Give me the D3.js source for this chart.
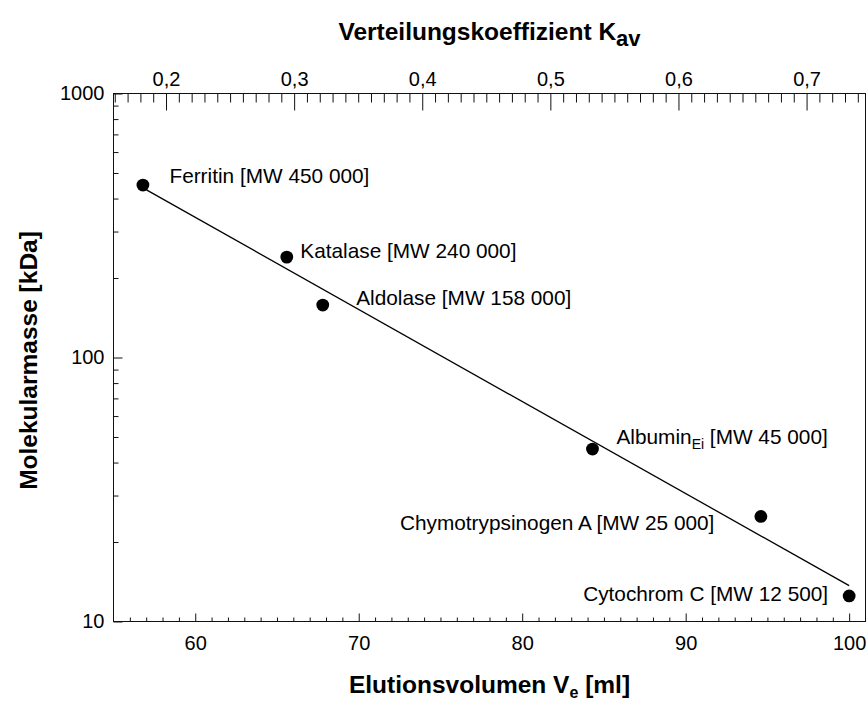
<!DOCTYPE html>
<html>
<head>
<meta charset="utf-8">
<script src="https://cdn.jsdelivr.net/npm/d3@7"></script>
<style>
  html, body { margin: 0; padding: 0; background: #fff; }
  svg { display: block; font-family: "Liberation Sans", Arial, sans-serif; }
</style>
</head>
<body>
<svg id="chart" width="868" height="705"></svg>
<script>
// Calibration proteins for gel filtration
const proteins = ["Ferritin", "Katalase", "Aldolase", "Albumin", "Chymotrypsinogen A", "Cytochrom C"];
const labelTexts = ["Ferritin [MW 450 000]", "Katalase [MW 240 000]", "Aldolase [MW 158 000]",
                    "Albumin|Ei| [MW 45 000]", "Chymotrypsinogen A [MW 25 000]", "Cytochrom C [MW 12 500]"];
const elutionVolume = [56.8, 65.6, 67.8, 84.3, 94.6, 100.0];   // ml
const molMass = [450, 240, 158, 45, 25, 12.5];                  // kDa

// Axis ranges and ticks
const veDomain = [55, 101];
const veTicks = [60, 70, 80, 90, 100];
const kavDomain = [0.159, 0.746];
const kavTicks = [0.2, 0.3, 0.4, 0.5, 0.6, 0.7];
const massDomain = [10, 1000];
const massTicks = [10, 100, 1000];

const svg = d3.select("#chart");
const plot = { left: 113.5, right: 865.5, top: 93.5, bottom: 621.5 };

const x = d3.scaleLinear().domain(veDomain).range([plot.left, plot.right]);
const xTop = d3.scaleLinear().domain(kavDomain).range([plot.left, plot.right]);
const y = d3.scaleLog().domain(massDomain).range([plot.bottom, plot.top]);

const ink = "#111";
const tickFont = 20;

// Frame
svg.append("rect")
  .attr("x", plot.left).attr("y", plot.top)
  .attr("width", plot.right - plot.left).attr("height", plot.bottom - plot.top)
  .attr("fill", "none").attr("stroke", ink).attr("stroke-width", 1);

function styleAxis(g) {
  g.select(".domain").remove();
  g.selectAll("line").attr("stroke", ink).attr("stroke-width", 1);
  g.selectAll("text").attr("fill", "#000").style("font-size", tickFont + "px")
    .style("font-family", "'Liberation Sans', Arial, sans-serif");
}

// Bottom axis: elution volume (ticks point inward)
const veMinor = d3.range(56, 101, 1).filter(v => v % 10 !== 0);
svg.append("g").attr("transform", `translate(0,${plot.bottom})`)
  .call(d3.axisBottom(x).tickValues(veMinor).tickSize(-4).tickFormat(""))
  .call(styleAxis);
svg.append("g").attr("transform", `translate(0,${plot.bottom})`)
  .call(d3.axisBottom(x).tickValues(veTicks).tickSize(-8).tickPadding(14).tickFormat(d3.format("d")))
  .call(styleAxis);

// Top axis: Kav
const kavMinor = d3.range(16, 75, 1).map(v => v / 100).filter(v => Math.round(v * 100) % 10 !== 0);
svg.append("g").attr("transform", `translate(0,${plot.top})`)
  .call(d3.axisTop(xTop).tickValues(kavMinor).tickSize(-9).tickFormat(""))
  .call(styleAxis);
svg.append("g").attr("transform", `translate(0,${plot.top})`)
  .call(d3.axisTop(xTop).tickValues(kavTicks).tickSize(-17).tickPadding(8)
        .tickFormat(d => d3.format(".1f")(d).replace(".", ",")))
  .call(styleAxis);

// Left axis: molecular mass, log scale
const massMinor = [];
[10, 100].forEach(dec => { for (let k = 2; k <= 9; k++) massMinor.push(k * dec); });
svg.append("g").attr("transform", `translate(${plot.left},0)`)
  .call(d3.axisLeft(y).tickValues(massMinor).tickSize(-5).tickFormat(""))
  .call(styleAxis);
svg.append("g").attr("transform", `translate(${plot.left},0)`)
  .call(d3.axisLeft(y).tickValues(massTicks).tickSize(-9).tickPadding(9).tickFormat(d3.format("d")))
  .call(styleAxis);

// Log-linear regression of mass against elution volume
const lx = elutionVolume, ly = molMass.map(Math.log10);
const mx = d3.mean(lx), my = d3.mean(ly);
const slope = d3.sum(lx, (v, i) => (v - mx) * (ly[i] - my)) / d3.sum(lx, v => (v - mx) ** 2);
const intercept = my - slope * mx;
const fitX = d3.extent(elutionVolume);
const fit = fitX.map(v => [v, Math.pow(10, intercept + slope * v)]);
svg.append("path")
  .datum(fit)
  .attr("d", d3.line().x(d => x(d[0])).y(d => y(d[1])))
  .attr("fill", "none").attr("stroke", "#000").attr("stroke-width", 1.3);

// Points
svg.append("g").selectAll("circle")
  .data(elutionVolume)
  .join("circle")
  .attr("cx", d => x(d))
  .attr("cy", (d, i) => y(molMass[i]))
  .attr("r", 6.4)
  .attr("fill", "#000");

// Point labels: offset from the marker [dx, dy, anchor]
const labelOffsets = [[26.5, -2, "start"], [13.5, 1, "start"], [33.5, 0, "start"],
                      [24, -5, "start"], [-46.5, 14, "end"], [-21, 5, "end"]];
const labels = svg.append("g").style("font-size", "20.8px").attr("fill", "#000");
labelTexts.forEach((t, i) => {
  const [dx, dy, anchor] = labelOffsets[i];
  const txt = labels.append("text")
    .attr("x", x(elutionVolume[i]) + dx)
    .attr("y", y(molMass[i]) + dy)
    .attr("text-anchor", anchor);
  const parts = t.split("|");
  if (parts.length === 1) {
    txt.text(t);
  } else {
    txt.append("tspan").text(parts[0]);
    txt.append("tspan").text(parts[1]).style("font-size", "14px").attr("dy", 5);
    txt.append("tspan").text(parts[2]).attr("dy", -5);
  }
});

// Axis titles
const titleStyle = sel => sel.style("font-weight", "bold").style("font-size", "24.5px").attr("fill", "#000");
const cx = (plot.left + plot.right) / 2;

const topTitle = svg.append("text").attr("x", cx).attr("y", 40).attr("text-anchor", "middle").call(titleStyle);
topTitle.append("tspan").text("Verteilungskoeffizient K");
topTitle.append("tspan").text("av").style("font-size", "22px").attr("dy", 6);

const bottomTitle = svg.append("text").attr("x", cx).attr("y", 693).attr("text-anchor", "middle").call(titleStyle);
bottomTitle.append("tspan").text("Elutionsvolumen V");
bottomTitle.append("tspan").text("e").style("font-size", "16px").attr("dy", 5);
bottomTitle.append("tspan").text(" [ml]").attr("dy", -5);

svg.append("text")
  .attr("transform", `translate(37,${(plot.top + plot.bottom) / 2 + 3}) rotate(-90)`)
  .attr("text-anchor", "middle")
  .call(titleStyle)
  .text("Molekularmasse [kDa]");
</script>
</body>
</html>
